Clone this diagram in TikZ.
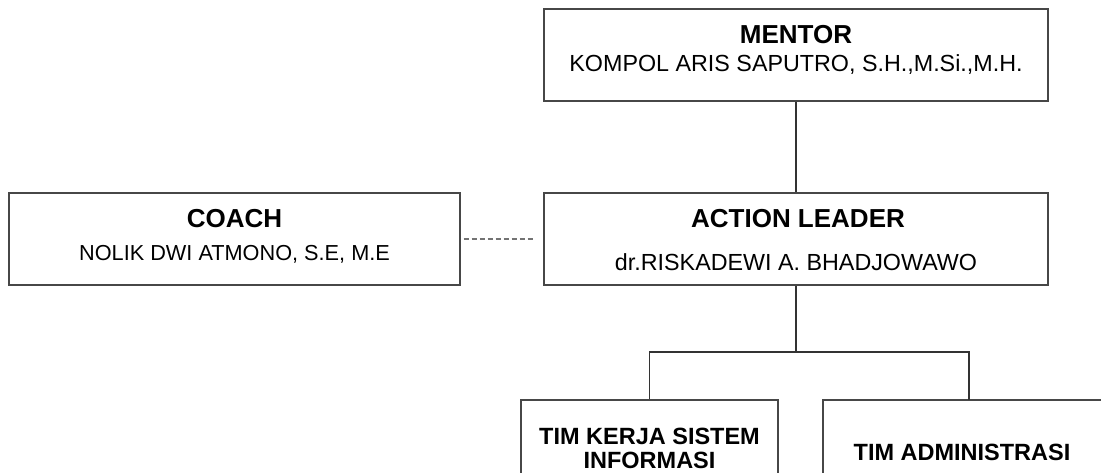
\documentclass[tikz,border=0pt]{standalone}
\usepackage{fontspec}
\setmainfont{Liberation Sans}
\begin{document}
\begin{tikzpicture}[x=1pt,y=-1pt,
  orgbox/.style={draw=black!72, line width=1.4pt, rectangle, inner sep=0pt},
  orglink/.style={draw=black!80, line width=1.3pt},
  titletext/.style={anchor=base, inner sep=0pt, font=\bfseries\fontsize{26}{30}\selectfont},
  teamtext/.style={anchor=base, inner sep=0pt, font=\bfseries\fontsize{23.5}{28}\selectfont},
  persontext/.style={anchor=base, inner sep=0pt, font=\fontsize{23.3}{28}\selectfont}]
  \useasboundingbox (0,0) rectangle (1101,473);
  \clip (0,0) rectangle (1101,473);

  % boxes
  \node[orgbox, minimum width=504pt, minimum height=92pt] (mentor) at (796,55) {};
  \node[orgbox, minimum width=504pt, minimum height=92pt] (leader) at (796,239) {};
  \node[orgbox, minimum width=451pt, minimum height=92pt] (coach) at (234.5,239) {};
  \node[orgbox, minimum width=257pt, minimum height=140pt] (tks) at (649.5,470) {};
  \node[orgbox, minimum width=340pt, minimum height=140pt] (adm) at (993,470) {};
  \coordinate (admtop) at (969,400);

  % texts
  \node[titletext] (mentorT) at (796,43.5) {MENTOR};
  \node[persontext] (mentorN) at (796,71.5) {KOMPOL ARIS SAPUTRO, S.H.,M.Si.,M.H.};
  \node[titletext] (leaderT) at (798,228) {ACTION LEADER};
  \node[persontext] (leaderN) at (796,270.5) {dr.RISKADEWI A. BHADJOWAWO};
  \node[titletext] (coachT) at (234.5,228) {COACH};
  \node[persontext, font=\fontsize{21.7}{26}\selectfont] (coachN) at (234.5,261) {NOLIK DWI ATMONO, S.E, M.E};
  \node[teamtext] (tksT1) at (649.5,444) {TIM KERJA SISTEM};
  \node[teamtext] (tksT2) at (649.5,468.5) {INFORMASI};
  \node[teamtext] (admT) at (962,460) {TIM ADMINISTRASI};

  % connectors
  \coordinate (split) at (796,352);
  \draw[orglink] (mentor.south) -- (leader.north);
  \draw[orglink] (leader.south) -- (split);
  \draw[orglink] (tks.north) |- (split) -| (admtop);
  \draw[draw=black!55, line width=1.3pt, dash pattern=on 5pt off 3pt,
        shorten <=3pt, shorten >=9pt] (coach.east) -- (leader.west);
\end{tikzpicture}
\end{document}
